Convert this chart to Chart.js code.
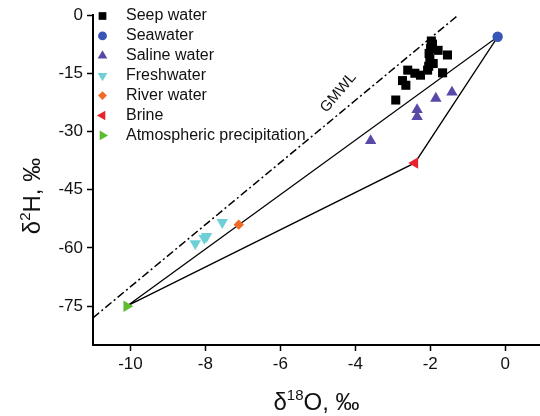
<!DOCTYPE html>
<html>
<head>
<meta charset="utf-8">
<title>d2H vs d18O</title>
<script src="https://cdn.jsdelivr.net/npm/chart.js@4.4.1/dist/chart.umd.min.js"></script>
<style>
  html, body { margin: 0; padding: 0; background: #fff; }
  #wrap { width: 540px; height: 416px; position: relative; }
</style>
</head>
<body>
<div id="wrap"><canvas id="canvas1"></canvas></div>
<script type="text/javascript">
  // valores (d18O, d2H)
  const seepX = [-2.92, -2.74, -2.65, -2.60, -2.41, -2.26, -2.07, -1.92, -2.01, -2.03, -1.99, -1.94, -1.79, -1.67, -1.54, -1.97, -2.04];
  const seepY = [-21.9, -16.9, -18.1, -14.2, -15.0, -15.5, -14.2, -12.5, -11.5, -9.9, -8.6, -7.5, -9.1, -14.9, -10.3, -6.7, -13.2];
  const seaX = [-0.2];
  const seaY = [-5.6];
  const salineX = [-3.59, -2.35, -2.35, -1.85, -1.42];
  const salineY = [-32.4, -24.4, -26.2, -21.5, -19.9];
  const freshX = [-7.55, -7.97, -8.03, -8.27];
  const freshY = [-53.4, -57.0, -57.5, -58.9];
  const riverX = [-7.11];
  const riverY = [-54.0];
  const brineX = [-2.41];
  const brineY = [-38.1];
  const precipX = [-10.1];
  const precipY = [-75.0];
  const gmwlX = [-11, -1.25];
  const gmwlY = [-78, 0];
  const xTicks = [-10, -8, -6, -4, -2, 0];
  const yTicks = [-75, -60, -45, -30, -15, 0];

  const fuente = "'Liberation Sans', Arial, sans-serif";

  function puntos(xs, ys) {
    var out = [];
    for (var i = 0; i < xs.length; i++) out.push({x: xs[i], y: ys[i]});
    return out;
  }

  // triangulo de mezcla: precipitacion -> agua de mar -> salmuera -> precipitacion
  var mezcla = [
    {x: precipX[0], y: precipY[0]},
    {x: seaX[0], y: seaY[0]},
    {x: brineX[0], y: brineY[0]},
    {x: precipX[0], y: precipY[0]}
  ];

  function serie(label, xs, ys, color, estilo, rot, radio) {
    return {
      label: label, data: puntos(xs, ys),
      backgroundColor: color, borderColor: color, borderWidth: 0,
      pointStyle: estilo, rotation: rot, pointRadius: radio, pointHoverRadius: radio,
      showLine: false
    };
  }

  var datasets = [
    serie('Seep water', seepX, seepY, '#000000', 'rect', 0, 6.4),
    serie('Seawater', seaX, seaY, '#3756b8', 'circle', 0, 5.2),
    serie('Saline water', salineX, salineY, '#5a48a8', 'triangle', 0, 6.6),
    serie('Freshwater', freshX, freshY, '#6dd0d6', 'triangle', 180, 6.6),
    serie('River water', riverX, riverY, '#f06a24', 'rectRot', 0, 5.2),
    serie('Brine', brineX, brineY, '#e8222c', 'triangle', 270, 6.6),
    serie('Atmospheric precipitation', precipX, precipY, '#5cbd30', 'triangle', 90, 6.6),
    {
      label: '', data: mezcla, showLine: true, borderColor: '#000', borderWidth: 1.3,
      pointRadius: 0, fill: false, tension: 0
    },
    {
      label: '', data: puntos(gmwlX, gmwlY), showLine: true, borderColor: '#000', borderWidth: 1.5,
      borderDash: [8, 3, 2, 3], pointRadius: 0, fill: false, tension: 0
    }
  ];

  // leyenda, titulos de ejes y etiqueta GMWL
  var textos = {
    id: 'textos',
    afterDraw: function(chart) {
      var ctx = chart.ctx, a = chart.chartArea;
      var sx = chart.scales.x, sy = chart.scales.y;
      ctx.save();

      // leyenda
      ctx.textBaseline = 'middle';
      ctx.textAlign = 'left';
      ctx.font = '16px ' + fuente;
      for (var i = 0; i < 7; i++) {
        var ds = chart.data.datasets[i];
        var yy = a.top + 1 + i * 19.9;
        ctx.fillStyle = ds.backgroundColor;
        Chart.helpers.drawPoint(ctx, {pointStyle: ds.pointStyle, rotation: ds.rotation, radius: ds.pointRadius * 0.85, borderWidth: 0}, a.left + 9.5, yy);
        ctx.fillStyle = '#111';
        ctx.fillText(ds.label, a.left + 33, yy);
      }

      // GMWL rotado
      ctx.save();
      ctx.translate(sx.getPixelForValue(-4.45), sy.getPixelForValue(-20));
      ctx.rotate(-50 * Math.PI / 180);
      ctx.textAlign = 'center';
      ctx.font = '15px ' + fuente;
      ctx.fillStyle = '#111';
      ctx.fillText('GMWL', 0, 0);
      ctx.restore();

      // titulo eje x: d18O, ‰
      ctx.fillStyle = '#111';
      ctx.textBaseline = 'alphabetic';
      escribeSup(ctx, '\u03B4', '18', 'O, \u2030', (a.left + a.right) / 2, 410, 0);
      // titulo eje y: d2H, ‰
      escribeSup(ctx, '\u03B4', '2', 'H, \u2030', 40, 196, -Math.PI / 2);
      ctx.restore();
    }
  };

  function escribeSup(ctx, a, sup, b, cx, cy, rot) {
    var fG = '24px ' + fuente, fS = '15px ' + fuente;
    ctx.font = fG; var w1 = ctx.measureText(a).width, w3 = ctx.measureText(b).width;
    ctx.font = fS; var w2 = ctx.measureText(sup).width;
    var total = w1 + w2 + w3;
    ctx.save();
    ctx.translate(cx, cy);
    ctx.rotate(rot);
    ctx.textAlign = 'left';
    var x0 = -total / 2;
    ctx.font = fG; ctx.fillText(a, x0, 0);
    ctx.font = fS; ctx.fillText(sup, x0 + w1, -10);
    ctx.font = fG; ctx.fillText(b, x0 + w1 + w2, 0);
    ctx.restore();
  }

  var ejeComun = {
    grid: { display: true, drawOnChartArea: false, drawTicks: true, tickLength: 6, tickColor: '#000', tickWidth: 1.5 },
    border: { display: true, color: '#000', width: 2 }
  };

  var myChart = new Chart(document.getElementById('canvas1'), {
    type: 'scatter',
    data: { datasets: datasets },
    plugins: [textos],
    options: {
      responsive: true,
      maintainAspectRatio: false,
      animation: false,
      layout: { autoPadding: false, padding: { top: 15, right: 0, left: 0, bottom: 0 } },
      plugins: { legend: { display: false }, tooltip: { enabled: false } },
      scales: {
        x: Object.assign({}, ejeComun, {
          type: 'linear', min: -11, max: 0.93,
          afterFit: function(s) { s.height = 71; },
          afterBuildTicks: function(s) { s.ticks = xTicks.map(function(v) { return {value: v}; }); },
          ticks: { padding: 3, color: '#111', font: { family: fuente, size: 17 } }
        }),
        y: Object.assign({}, ejeComun, {
          type: 'linear', min: -85, max: 0,
          afterFit: function(s) { s.width = 93; },
          afterBuildTicks: function(s) { s.ticks = yTicks.map(function(v) { return {value: v}; }); },
          ticks: { padding: 4, color: '#111', font: { family: fuente, size: 17 } }
        })
      }
    }
  });
</script>
</body>
</html>
